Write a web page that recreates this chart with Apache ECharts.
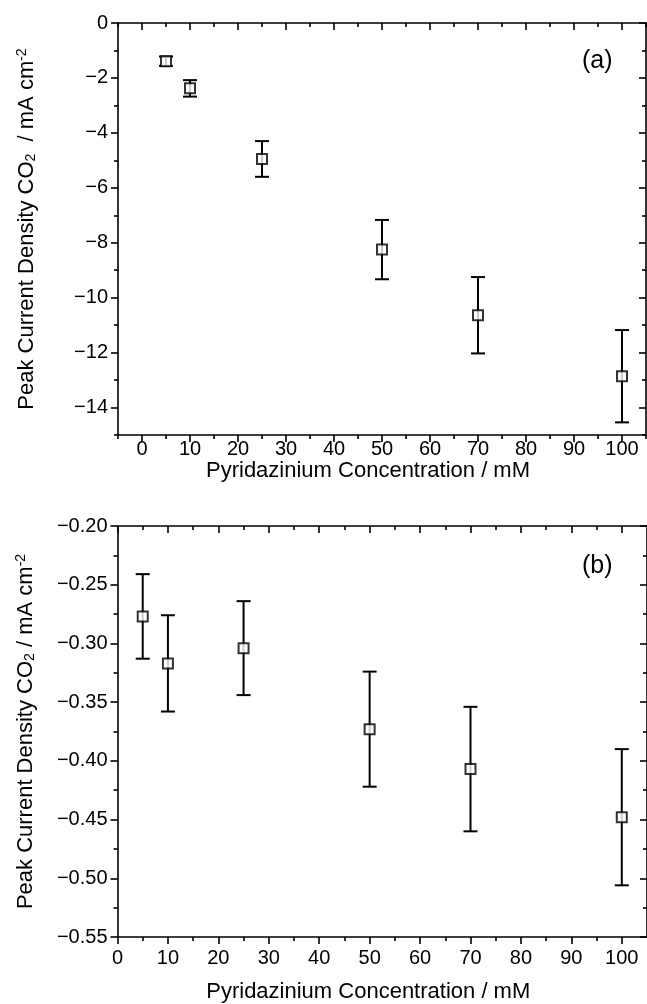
<!DOCTYPE html>
<html>
<head>
<meta charset="utf-8">
<script src="https://cdn.jsdelivr.net/npm/echarts@6/dist/echarts.min.js"></script>
<style>
  html, body { margin: 0; padding: 0; background: #fff; }
  #chart { width: 647px; height: 1004px; }
</style>
</head>
<body>
<div id="chart"></div>
<script>
// Pyridazinium concentration (mM)
const concentration = [5, 10, 25, 50, 70, 100]

// panel (a)
const densityA = [-1.39, -2.38, -4.95, -8.25, -10.64, -12.86]
const errorA = [0.17, 0.30, 0.65, 1.08, 1.39, 1.68]

// panel (b)
const densityB = [-0.277, -0.317, -0.304, -0.373, -0.407, -0.448]
const errorB = [0.036, 0.041, 0.040, 0.049, 0.053, 0.058]

// tick positions
const xMajorA = [0, 10, 20, 30, 40, 50, 60, 70, 80, 90, 100]
const xMinorA = [-5, 5, 15, 25, 35, 45, 55, 65, 75, 85, 95, 105]
const yMajorA = [0, -2, -4, -6, -8, -10, -12, -14]
const yMinorA = [-1, -3, -5, -7, -9, -11, -13, -15]
const xMajorB = [0, 10, 20, 30, 40, 50, 60, 70, 80, 90, 100]
const xMinorB = [5, 15, 25, 35, 45, 55, 65, 75, 85, 95]
const yMajorB = [-0.20, -0.25, -0.30, -0.35, -0.40, -0.45, -0.50, -0.55]
const yMinorB = [-0.225, -0.275, -0.325, -0.375, -0.425, -0.475, -0.525]

const xTitle = 'Pyridazinium Concentration / mM'
const yTitleA = 'Peak Current Density CO{sub|2}  / mA cm{sup|-2}'
const yTitleB = 'Peak Current Density CO{sub|2} / mA cm{sup|-2}'

const font = 'Liberation Sans, Arial, sans-serif'
const black = { color: '#000', width: 1.6 }

const titleStyle = {
  color: '#000',
  fontFamily: font,
  fontSize: 22,
  rich: {
    sub: { fontSize: 14, fontFamily: font, color: '#000', verticalAlign: 'bottom', padding: [8, 0, 0, 0] },
    sup: { fontSize: 14, fontFamily: font, color: '#000', verticalAlign: 'top', padding: [0, 0, 9, 0] }
  }
}

// minus sign like the original plot
const minus = s => s.replace('-', '\u2212')

// x axes: bottom (labelled, ticks out) + top mirror (ticks in)
function xAxes (grid, min, max, major, minor, labelMargin, nameGap, fmt) {
  const base = { type: 'value', gridIndex: grid, min, max, splitLine: { show: false } }
  return [
    {
      ...base,
      position: 'bottom',
      name: xTitle,
      nameLocation: 'middle',
      nameGap,
      nameTextStyle: { ...titleStyle, padding: [0, 28, 0, 0] },
      axisLine: { show: true, onZero: false, lineStyle: black },
      axisTick: { show: true, length: 7, customValues: major, lineStyle: black },
      axisLabel: { customValues: major, margin: labelMargin, color: '#000', fontSize: 20, fontFamily: font, formatter: fmt }
    },
    {
      ...base,
      position: 'bottom',
      axisLine: { show: false, onZero: false },
      axisTick: { show: true, length: 4, customValues: minor, lineStyle: black },
      axisLabel: { show: false }
    },
    {
      ...base,
      position: 'top',
      axisLine: { show: true, onZero: false, lineStyle: black },
      axisTick: { show: true, inside: true, length: 7, customValues: major, lineStyle: black },
      axisLabel: { show: false }
    },
    {
      ...base,
      position: 'top',
      axisLine: { show: false, onZero: false },
      axisTick: { show: true, inside: true, length: 4, customValues: minor, lineStyle: black },
      axisLabel: { show: false }
    }
  ]
}

// y axes: left (labelled, ticks out) + right mirror (ticks in)
function yAxes (grid, min, max, major, minor, name, nameGap, fmt) {
  const base = { type: 'value', gridIndex: grid, min, max, splitLine: { show: false } }
  return [
    {
      ...base,
      position: 'left',
      name,
      nameLocation: 'middle',
      nameGap,
      nameTextStyle: titleStyle,
      axisLine: { show: true, onZero: false, lineStyle: black },
      axisTick: { show: true, length: 7, customValues: major, lineStyle: black },
      axisLabel: { customValues: major, margin: 10, color: '#000', fontSize: 20, fontFamily: font, formatter: fmt }
    },
    {
      ...base,
      position: 'left',
      axisLine: { show: false, onZero: false },
      axisTick: { show: true, length: 4, customValues: minor, lineStyle: black },
      axisLabel: { show: false }
    },
    {
      ...base,
      position: 'right',
      axisLine: { show: true, onZero: false, lineStyle: black },
      axisTick: { show: true, inside: true, length: 7, customValues: major, lineStyle: black },
      axisLabel: { show: false }
    },
    {
      ...base,
      position: 'right',
      axisLine: { show: false, onZero: false },
      axisTick: { show: true, inside: true, length: 4, customValues: minor, lineStyle: black },
      axisLabel: { show: false }
    }
  ]
}

// vertical error bar with caps
const errorBar = (params, api) => {
  const x = api.value(0)
  const y = api.value(1)
  const e = api.value(2)
  const hi = api.coord([x, y + e])
  const lo = api.coord([x, y - e])
  const cap = 7
  const style = { stroke: '#000', lineWidth: 2 }
  return {
    type: 'group',
    children: [
      { type: 'line', shape: { x1: hi[0], y1: hi[1], x2: lo[0], y2: lo[1] }, style },
      { type: 'line', shape: { x1: hi[0] - cap, y1: hi[1], x2: hi[0] + cap, y2: hi[1] }, style },
      { type: 'line', shape: { x1: lo[0] - cap, y1: lo[1], x2: lo[0] + cap, y2: lo[1] }, style }
    ]
  }
}

const dataA = concentration.map((c, i) => [c, densityA[i], errorA[i]])
const dataB = concentration.map((c, i) => [c, densityB[i], errorB[i]])

const marker = {
  symbol: 'rect',
  symbolSize: 10,
  itemStyle: { color: '#fff', borderColor: '#000', borderWidth: 2 }
}

const chart = echarts.init(document.getElementById('chart'))

chart.setOption({
  animation: false,
  backgroundColor: '#fff',
  grid: [
    { left: 118, top: 23, width: 528, height: 412 },
    { left: 117.5, top: 526, width: 530.5, height: 411 }
  ],
  xAxis: [
    ...xAxes(0, -5, 105, xMajorA, xMinorA, 4, 21, v => String(v)),
    ...xAxes(1, 0, 105, xMajorB, xMinorB, 11, 44, v => String(v))
  ],
  yAxis: [
    ...yAxes(0, -15, 0, yMajorA, yMinorA, yTitleA, 80, v => minus(String(v))),
    ...yAxes(1, -0.55, -0.20, yMajorB, yMinorB, yTitleB, 80, v => minus(v.toFixed(2)))
  ],
  graphic: [
    { type: 'text', left: 582, top: 49, style: { text: '(a)', fontSize: 25, fontFamily: font, fill: '#000' } },
    { type: 'text', left: 582, top: 554, style: { text: '(b)', fontSize: 25, fontFamily: font, fill: '#000' } }
  ],
  series: [
    {
      type: 'custom',
      xAxisIndex: 0,
      yAxisIndex: 0,
      renderItem: errorBar,
      encode: { x: 0, y: 1 },
      data: dataA,
      z: 2
    },
    { type: 'scatter', xAxisIndex: 0, yAxisIndex: 0, data: dataA, z: 3, ...marker },
    {
      type: 'custom',
      xAxisIndex: 4,
      yAxisIndex: 4,
      renderItem: errorBar,
      encode: { x: 0, y: 1 },
      data: dataB,
      z: 2
    },
    { type: 'scatter', xAxisIndex: 4, yAxisIndex: 4, data: dataB, z: 3, ...marker }
  ]
})
</script>
</body>
</html>
